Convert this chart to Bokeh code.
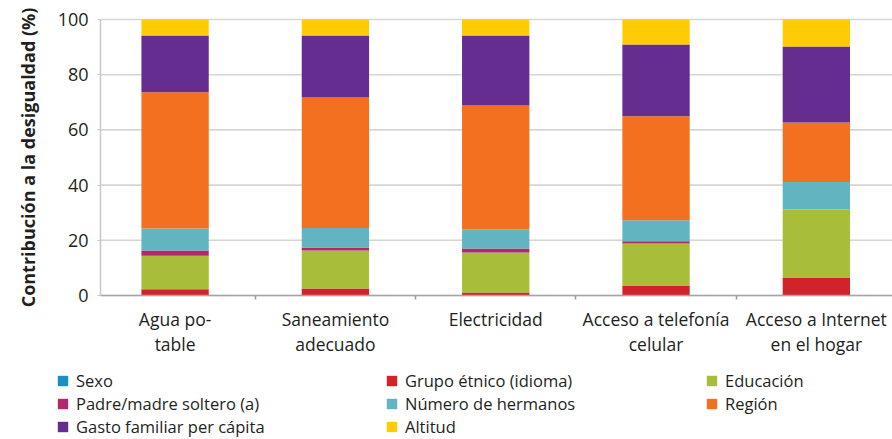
from bokeh.plotting import figure
from bokeh.models import Range1d, FixedTicker, Legend, LegendItem
from bokeh.embed import file_html
from bokeh.resources import INLINE

categories = ["Agua po-\ntable", "Saneamiento\nadecuado", "Electricidad",
              "Acceso a telefonía\ncelular", "Acceso a Internet\nen el hogar"]

sexo = [0.0, 0.0, 0.0, 0.0, 0.0]
grupo_etnico = [2.3, 2.5, 1.1, 3.6, 6.5]
educacion = [12.1, 13.8, 14.5, 15.2, 24.7]
padre_madre = [1.9, 1.1, 1.4, 0.9, 0.0]
num_hermanos = [8.0, 7.1, 6.9, 7.6, 9.9]
region = [49.3, 47.2, 44.9, 37.6, 21.6]
gasto = [20.6, 22.5, 25.4, 26.0, 27.5]
altitud = [5.8, 5.8, 5.8, 9.1, 9.8]

series_names = ["Sexo", "Grupo étnico (idioma)", "Educación", "Padre/madre soltero (a)",
                "Número de hermanos", "Región", "Gasto familiar per cápita", "Altitud"]
series_values = [sexo, grupo_etnico, educacion, padre_madre, num_hermanos, region, gasto, altitud]
colors = ["#1a8fc4", "#d2232a", "#a8bd3a", "#b5276c", "#62b5c0", "#f37021", "#652d8f", "#ffcb05"]

y_ticks = [0, 20, 40, 60, 80, 100]

FONT = "Open Sans"
TXT = "#231f20"

# plot-area bounds in data units (the frame is extended so the legend fits inside it)
X_LEFT, X_RIGHT = -0.465, 4.475
Y_MIN, Y_MAX = 0, 100

x_idx = list(range(len(categories)))
data = {"x": x_idx}
keys = []
for i, vals in enumerate(series_values):
    k = f"s{i}"
    keys.append(k)
    data[k] = vals

p = figure(width=892, height=439, output_backend="svg", toolbar_location=None,
           x_range=Range1d(-1.089, X_RIGHT), y_range=Range1d(-52.17, 106.88),
           min_border_left=0, min_border_right=0, min_border_top=0, min_border_bottom=0)
p.outline_line_color = None
p.xgrid.visible = False
p.ygrid.visible = False

# horizontal gridlines behind the bars
p.segment(x0=X_LEFT, x1=X_RIGHT, y0=y_ticks, y1=y_ticks, line_color="#d6d6d6", line_width=1.6)

renderers = p.vbar_stack(keys, x="x", width=0.42, color=colors, source=data, line_color=None)

# axes, fixed inside the extended frame
xa = p.xaxis[0]
xa.fixed_location = 0
xa.bounds = (X_LEFT, X_RIGHT)
xa.ticker = FixedTicker(ticks=x_idx, minor_ticks=[i + 0.5 for i in x_idx[:-1]])
xa.major_label_overrides = {i: c for i, c in enumerate(categories)}
xa.major_tick_line_color = None
xa.major_tick_out = 0
xa.major_tick_in = 0
xa.minor_tick_line_color = "#9a9a9a"
xa.minor_tick_line_width = 1.5
xa.minor_tick_out = 4
xa.minor_tick_in = 0
xa.axis_line_color = "#a6a6a6"
xa.axis_line_width = 1.5
xa.major_label_text_font = FONT
xa.major_label_text_font_size = "17.5px"
xa.major_label_text_color = TXT
xa.major_label_standoff = 7
xa.major_label_text_line_height = 1.05

ya = p.yaxis[0]
ya.fixed_location = X_LEFT
ya.bounds = (Y_MIN, Y_MAX)
ya.ticker = FixedTicker(ticks=y_ticks)
ya.minor_tick_line_color = None
ya.major_tick_out = 3
ya.major_tick_in = 0
ya.major_tick_line_color = "#c8c8c8"
ya.axis_line_color = "#c8c8c8"
ya.axis_line_width = 1.5
ya.major_label_text_font = FONT
ya.major_label_text_font_size = "18px"
ya.major_label_text_color = TXT
ya.major_label_standoff = 9
ya.axis_label = "Contribución a la desigualdad (%)"
ya.axis_label_text_font = FONT
ya.axis_label_text_font_size = "18px"
ya.axis_label_text_font_style = "bold"
ya.axis_label_text_color = TXT
ya.axis_label_standoff = 15

groups = [[0, 3, 6], [1, 4, 7], [2, 5]]
xs = [56, 385, 705]
ys = [1, 1, 24]
for g, lx, ly in zip(groups, xs, ys):
    leg = Legend(items=[LegendItem(label=series_names[i], renderers=[renderers[i]]) for i in g],
                 location=(lx, ly), orientation="vertical",
                 glyph_width=13, glyph_height=13, label_standoff=7,
                 label_text_font=FONT, label_text_font_size="16.5px", label_text_color=TXT,
                 label_height=23, spacing=0, padding=0, margin=0,
                 border_line_color=None, background_fill_alpha=0)
    p.add_layout(leg, "center")

open("out.html", "w").write(file_html(p, INLINE))
